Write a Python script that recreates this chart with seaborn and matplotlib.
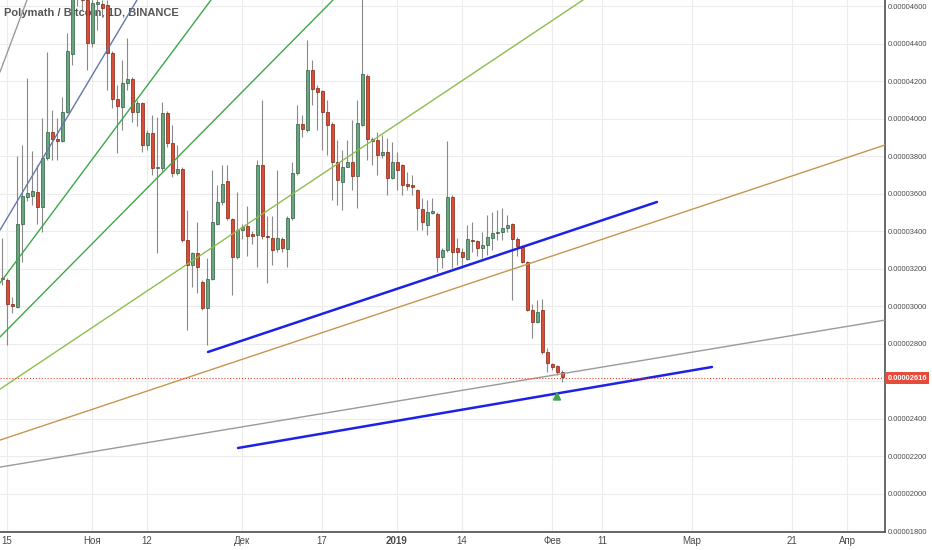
import numpy as np
import matplotlib
matplotlib.use("Agg")
import matplotlib.pyplot as plt
import seaborn as sns

sns.set_theme(style="white")
plt.rcParams['font.family'] = ['Liberation Sans', 'DejaVu Sans']

# prices in satoshi (1e-8 BTC); day 0 = 2018-10-14
opens = [3149,3139,3011,2995,3437,3581,3587,3608,3528,3789,3928,3888,3882,4035,4344,4660,4750,4632,4403,4612,4611,4605,4349,4104,4062,4189,4211,4035,4083,3859,3923,3736,3736,4029,3869,3709,3731,3352,3219,3283,3128,2989,3144,3437,3555,3667,3464,3261,3405,3427,3384,3379,3752,3373,3363,3304,3357,3304,3469,3709,3971,3939,4259,4163,4147,4035,3971,3768,3662,3742,3768,3693,3966,4227,3891,3885,3805,3821,3683,3768,3752,3648,3645,3619,3517,3432,3496,3491,3261,3299,3581,3309,3288,3251,3352,3347,3309,3325,3363,3389,3395,3416,3437,3357,3320,3235,2979,2915,2979,2755,2691,2680,2648]
closes = [3144,3011,3000,3437,3587,3603,3613,3528,3789,3928,3891,3882,4035,4360,4660,4750,4632,4403,4616,4618,4589,4349,4104,4067,4189,4211,4035,4083,3859,3923,3736,3742,4029,3869,3709,3731,3352,3219,3283,3208,2989,3144,3448,3555,3651,3469,3261,3405,3421,3373,3373,3752,3373,3368,3299,3363,3309,3469,3709,3971,3944,4259,4157,4141,4035,3965,3768,3672,3742,3768,3693,3976,4237,3891,3880,3805,3821,3683,3768,3725,3645,3643,3635,3523,3448,3501,3507,3261,3299,3581,3288,3288,3261,3357,3347,3309,3325,3368,3389,3395,3416,3432,3357,3320,3235,2979,2915,2968,2755,2696,2675,2648,2621]
highs = [3363,3150,3048,3800,3859,4216,3827,3752,4003,4355,4045,4003,4115,4456,4750,4800,4790,4680,4650,4640,4630,4630,4360,4179,4312,4429,4220,4100,4090,3940,4019,4008,4088,4040,3965,3859,3740,3512,3290,3448,3140,3256,3725,3645,3752,3752,3470,3608,3440,3533,3400,3779,4099,3480,3480,3725,3370,3480,3768,4072,4020,4419,4312,4180,4150,4099,3980,3885,3832,3885,3992,4099,4640,4240,3900,3928,3912,3896,3875,3821,3760,3715,3699,3625,3576,3565,3576,3500,3310,3880,3590,3363,3309,3432,3448,3350,3395,3485,3501,3512,3523,3485,3445,3368,3325,3240,3011,3032,3037,2776,2696,2685,2659]
lows = [3112,2792,2963,2990,3235,3560,3539,3437,3395,3780,3779,3779,3875,4030,4285,4600,4580,4259,4380,4472,4540,4152,4056,3816,3939,4150,3981,3960,3821,3830,3700,3283,3720,3850,3690,3700,3340,2872,3101,3069,2980,2792,3140,3430,3540,3460,3059,3250,3360,3267,3330,3208,3360,3123,3219,3290,3290,3208,3460,3700,3900,3930,4072,3939,3832,3805,3565,3539,3512,3740,3619,3523,3960,3779,3752,3699,3790,3592,3680,3619,3592,3619,3592,3405,3405,3379,3490,3181,3203,3290,3203,3219,3203,3245,3288,3267,3256,3272,3299,3352,3352,3395,3032,3267,3230,2975,2829,2910,2744,2648,2659,2632,2595]
days = np.arange(len(opens))

# drawn trend lines: (x0, y0, x1, y1, colour, width)
trend_lines = [
    (41.2, 2755, 131.0, 3555, "#1e22e6", 1.8),
    (47.2, 2243, 142.0, 2675, "#1e22e6", 1.8),
    (-0.4, 2285, 176.6, 3859, "#c8954f", 1.0),
    (-0.4, 2141, 176.6, 2925, "#9a9a9a", 1.0),
    (-0.4, 2557, 116.2, 4632, "#8fbc4f", 1.0),
    (-0.4, 2835, 66.2, 4632, "#3fa64a", 1.0),
    (-0.4, 3123, 41.8, 4632, "#3fa64a", 1.0),
    (-0.4, 3405, 27.0, 4632, "#6677a8", 1.0),
    (-0.4, 4248, 5.0, 4632, "#9a9a9a", 1.0),
]
last_price = 2616
tick_days = [1, 18, 29, 48, 64, 79, 92, 110, 120, 138, 158, 169]
tick_labels = ["15", "Ноя", "12", "Дек", "17", "2019", "14", "Фев", "11", "Мар", "21", "Апр"]
y_ticks = list(range(1800, 4601, 200))

fig = plt.figure(figsize=(9.32, 5.5), dpi=100)
ax = fig.add_axes([0, 18/550, 885/932, 532/550])
ax.set_xlim(-0.4, 176.6)
ax.set_ylim(1795, 4632)

ax.set_xticks(tick_days)
ax.set_xticklabels(tick_labels, fontsize=7, color="#4a4a4a")
ax.get_xticklabels()[5].set_fontweight("bold")
ax.set_yticks(y_ticks)
ax.set_yticklabels(["" if v == 2600 else f"{v/1e8:.8f}" for v in y_ticks],
                   fontsize=5.4, color="#4a4a4a")
ax.yaxis.tick_right()
ax.tick_params(axis="x", length=0, pad=3)
ax.tick_params(axis="y", length=0, pad=2)
ax.grid(True, color="#ececec", linewidth=0.8)
ax.set_axisbelow(True)
for s in ["top", "left"]:
    ax.spines[s].set_visible(False)
ax.spines["right"].set_color("#555555")
ax.spines["bottom"].set_color("#555555")

ax.text(0.005, 0.985, "Polymath / Bitcoin, 1D, BINANCE", transform=ax.transAxes,
        fontsize=8, color="#555555", fontweight="bold", va="top", zorder=1)

o = np.array(opens); c = np.array(closes)
up = c >= o
ax.vlines(days, lows, highs, color="#8a8a8a", linewidth=0.8, zorder=2)
ax.bar(days[up], (c - o)[up] + 3, bottom=o[up] - 1.5, width=0.6, color="#6aa582",
       edgecolor="#2e5e3e", linewidth=0.5, zorder=3)
ax.bar(days[~up], (o - c)[~up] + 3, bottom=c[~up] - 1.5, width=0.6, color="#dc4c34",
       edgecolor="#7a2416", linewidth=0.5, zorder=3)

for x0, y0, x1, y1, col, lw in trend_lines:
    ax.plot([x0, x1], [y0, y1], color=col, linewidth=lw, zorder=4)

ax.axhline(last_price, color="#e64a3a", linewidth=0.8, linestyle=":", zorder=4)
ax.annotate("", xy=(111, 2560), xytext=(111, 2505),
            arrowprops=dict(arrowstyle="-|>", color="#3fa64a", lw=1.2), zorder=5)
ax.text(1.003, (last_price - 1795) / (4632 - 1795), f"{last_price/1e8:.8f}",
        transform=ax.transAxes, fontsize=5.4, color="white", fontweight="bold",
        va="center", ha="left", clip_on=False, zorder=10,
        bbox=dict(boxstyle="square,pad=0.3", fc="#e64a3a", ec="none"))

fig.savefig("out.png", dpi=100)
